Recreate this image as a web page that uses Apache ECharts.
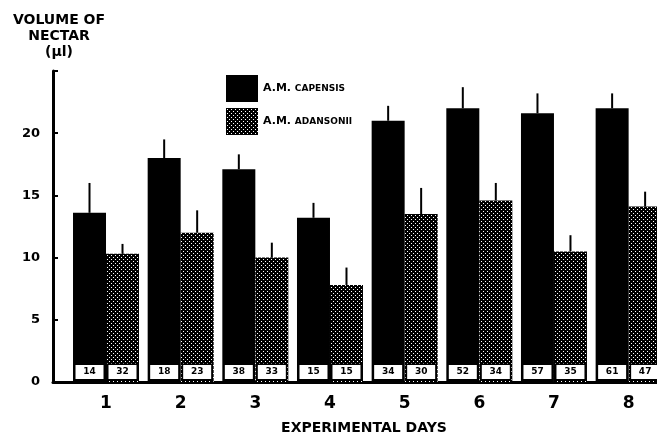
<!DOCTYPE html>
<html>
<head>
<meta charset="utf-8">
<script src="https://cdn.jsdelivr.net/npm/echarts@6/dist/echarts.min.js"></script>
<style>
  html, body { margin: 0; padding: 0; background: #fff; }
  #chart { width: 657px; height: 436px; }
</style>
</head>
<body>
<div id="chart"></div>
<script>
// Experimental days on the horizontal axis
const days = [1, 2, 3, 4, 5, 6, 7, 8];

// Mean nectar volume (µl), upper error (µl) and sample size per day
const capensisMean = [13.6, 18.0, 17.1, 13.2, 21.0, 22.0, 21.6, 22.0];
const capensisErr  = [2.4, 1.5, 1.2, 1.2, 1.2, 1.7, 1.6, 1.2];
const capensisN    = [14, 18, 38, 15, 34, 52, 57, 61];

const adansoniiMean = [10.3, 12.0, 10.0, 7.8, 13.5, 14.6, 10.5, 14.1];
const adansoniiErr  = [0.8, 1.8, 1.2, 1.4, 2.1, 1.4, 1.3, 1.2];
const adansoniiN    = [32, 23, 33, 15, 30, 34, 35, 47];

// Value-axis tick labels
const yTickLabels = [0, 5, 10, 15, 20];

const FONT = 'DejaVu Sans';
const CAT_GAP = 0.116;

// Dotted fill: white dots on black, offset every other row
const dotCanvas = document.createElement('canvas');
dotCanvas.width = 4; dotCanvas.height = 4;
const dc = dotCanvas.getContext('2d');
dc.fillStyle = '#000'; dc.fillRect(0, 0, 4, 4);
dc.fillStyle = '#fff'; dc.fillRect(1, 1, 1, 1); dc.fillRect(3, 3, 1, 1);
const dotted = { image: dotCanvas, repeat: 'repeat' };

function countLabel(counts) {
  return {
    show: true,
    position: 'insideBottom',
    distance: 3,
    formatter: p => String(counts[p.dataIndex]),
    backgroundColor: '#fff',
    borderColor: '#000',
    borderWidth: 1.5,
    width: 28,
    height: 12,
    lineHeight: 12,
    padding: [1, 0, 1, 0],
    align: 'center',
    color: '#000',
    fontFamily: FONT,
    fontWeight: 'bold',
    fontSize: 9
  };
}

// Upper error whiskers, centred on each bar of a side-by-side pair
function whiskers(name, means, errs, side) {
  return {
    type: 'custom',
    name: name + ' error',
    silent: true,
    z: 3,
    data: days.map((d, i) => [d, means[i], errs[i]]),
    renderItem: function (params, api) {
      const x = api.value(0), y = api.value(1), e = api.value(2);
      const band = api.size([1, 0])[0];
      const barW = band * (1 - CAT_GAP) / 2;
      const base = api.coord([x, y]);
      const top = api.coord([x, y + e]);
      const cx = base[0] + side * barW / 2;
      return {
        type: 'line',
        shape: { x1: cx, y1: base[1], x2: cx, y2: top[1] },
        style: { stroke: '#000', lineWidth: 2 }
      };
    }
  };
}

const chart = echarts.init(document.getElementById('chart'), null, { renderer: 'canvas' });

chart.setOption({
  animation: false,
  backgroundColor: '#fff',
  textStyle: { fontFamily: FONT },
  title: {
    text: 'VOLUME OF\nNECTAR\n(µl)',
    left: 54,
    top: 7,
    textAlign: 'center',
    textStyle: {
      fontFamily: FONT, fontWeight: 'bold', fontSize: 14, lineHeight: 16, color: '#000'
    }
  },
  legend: {
    orient: 'vertical',
    left: 221,
    top: 70,
    icon: 'rect',
    itemWidth: 32,
    itemHeight: 27,
    itemGap: 6,
    selectedMode: false,
    data: ['A. M. capensis', 'A. M. adansonii'],
    formatter: name => name === 'A. M. capensis'
      ? '{a|A.M.} {b|CAPENSIS}'
      : '{a|A.M.} {b|ADANSONII}',
    textStyle: {
      color: '#000',
      rich: {
        a: { fontFamily: FONT, fontWeight: 'bold', fontSize: 11, color: '#000' },
        b: { fontFamily: FONT, fontWeight: 'bold', fontSize: 9, color: '#000' }
      }
    }
  },
  grid: { left: 53, right: 0, top: 71, bottom: 54, containLabel: false, outerBoundsMode: 'none' },
  xAxis: {
    type: 'value',
    min: 0.29,
    max: 8.38,
    name: 'EXPERIMENTAL DAYS',
    nameLocation: 'middle',
    nameGap: 39,
    nameTextStyle: {
      fontFamily: FONT, fontWeight: 'bold', fontSize: 14, color: '#000', padding: [0, 0, 0, 18]
    },
    axisLine: { show: true, lineStyle: { color: '#000', width: 3 } },
    axisTick: { show: false },
    splitLine: { show: false },
    axisLabel: {
      customValues: days,
      margin: 13,
      color: '#000',
      fontFamily: FONT,
      fontWeight: 'bold',
      fontSize: 17
    }
  },
  yAxis: {
    type: 'value',
    min: 0,
    max: 25,
    interval: 5,
    axisLine: { show: true, lineStyle: { color: '#000', width: 3 } },
    axisTick: { show: true, inside: true, length: 5, lineStyle: { color: '#000', width: 2 } },
    splitLine: { show: false },
    axisLabel: {
      margin: 13,
      color: '#000',
      fontFamily: FONT,
      fontWeight: 'bold',
      fontSize: 13,
      formatter: v => (yTickLabels.indexOf(v) >= 0 ? String(v) : '')
    }
  },
  series: [
    {
      type: 'bar',
      name: 'A. M. capensis',
      barGap: '0%',
      barCategoryGap: (CAT_GAP * 100) + '%',
      itemStyle: { color: '#000' },
      label: countLabel(capensisN),
      data: days.map((d, i) => [d, capensisMean[i]])
    },
    {
      type: 'bar',
      name: 'A. M. adansonii',
      barGap: '0%',
      barCategoryGap: (CAT_GAP * 100) + '%',
      itemStyle: { color: dotted },
      label: countLabel(adansoniiN),
      data: days.map((d, i) => [d, adansoniiMean[i]])
    },
    whiskers('A. M. capensis', capensisMean, capensisErr, -1),
    whiskers('A. M. adansonii', adansoniiMean, adansoniiErr, 1)
  ]
});
</script>
</body>
</html>
